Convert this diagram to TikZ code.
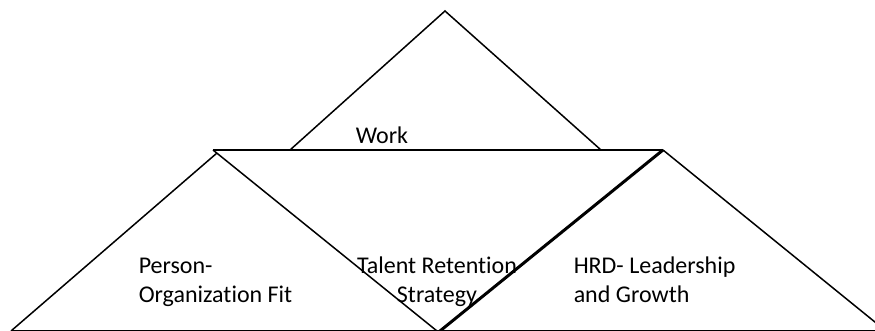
\documentclass[tikz,border=0pt]{standalone}
\usepackage{fontspec}
\setmainfont[Ligatures=NoCommon]{Carlito}
\tikzset{
  lbl/.style={inner sep=0pt,font=\fontsize{12pt}{14.5pt}\selectfont},
  thickedge/.style={line width=1.5pt}
}
\begin{document}
\begin{tikzpicture}[x=0.5pt,y=-0.5pt,line width=0.75pt]
  \useasboundingbox (0,0) rectangle (875,331);
  % corners of the triangles
  \coordinate (wt) at (445,11);
  \coordinate (wl) at (290,150);
  \coordinate (wr) at (601,150);
  \coordinate (sl) at (213,150);
  \coordinate (sr) at (663,150);
  \coordinate (sb) at (437,331);
  \coordinate (pt) at (217,153);
  \coordinate (pl) at (11,331);
  \coordinate (hb) at (440,331);
  \coordinate (hr) at (886,331);
  \draw (wl)--(wt)--(wr);
  \draw (sl)--(sr);
  \draw (sl)--(sb);
  \draw (pl)--(pt);
  \draw (sr)--(hr);
  \draw (pl)--(hr);
  \draw[thickedge] (sr)--(hb);
  \node[lbl,anchor=base west] (work) at (355,144) {Work};
  \node[lbl,anchor=base west] (fit) at (138,274)
    {\begin{tabular}[t]{@{}l@{}}Person-\\Organization Fit\end{tabular}};
  \node[lbl,anchor=base] (trs) at (437,274)
    {\begin{tabular}[t]{@{}c@{}}Talent Retention\\Strategy\end{tabular}};
  \node[lbl,anchor=base west] (hrd) at (573,274)
    {\begin{tabular}[t]{@{}l@{}}HRD- Leadership\\and Growth\end{tabular}};
\end{tikzpicture}
\end{document}
